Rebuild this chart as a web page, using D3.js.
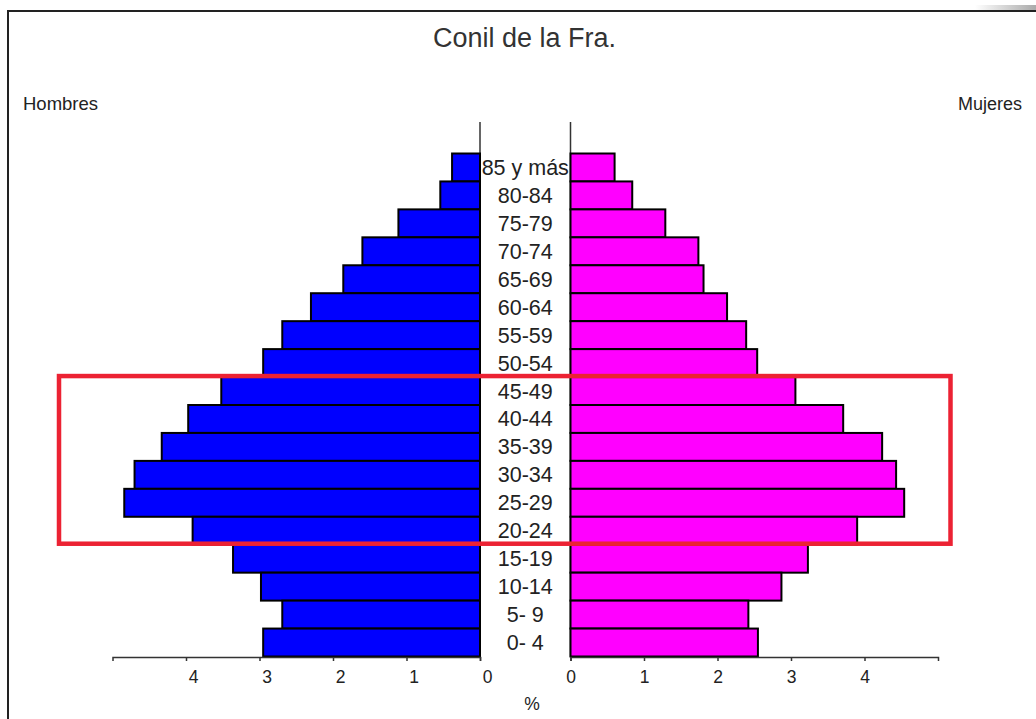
<!DOCTYPE html>
<html>
<head>
<meta charset="utf-8">
<script src="https://cdn.jsdelivr.net/npm/d3@7"></script>
<style>
  html, body { margin: 0; padding: 0; background: #fff; }
  svg { display: block; }
  text { font-family: "Liberation Sans", Arial, sans-serif; fill: #222; }
</style>
</head>
<body>
<svg id="chart" width="1036" height="719"></svg>
<script>
// ---- Data ----
const title = "Conil de la Fra.";
const ages = ["85 y más","80-84","75-79","70-74","65-69","60-64","55-59","50-54",
              "45-49","40-44","35-39","30-34","25-29","20-24","15-19","10-14","5- 9","0- 4"];
const hombres = [0.38,0.54,1.11,1.60,1.86,2.30,2.69,2.95,3.52,3.97,4.33,4.70,4.84,3.91,3.36,2.98,2.69,2.95];
const mujeres = [0.60,0.84,1.29,1.74,1.81,2.13,2.39,2.54,3.06,3.71,4.24,4.43,4.54,3.90,3.23,2.87,2.42,2.55];
const tickValues = [0,1,2,3,4];
const highlighted = ["45-49","20-24"];

(function draw() {
  const svg = d3.select("#chart");
  const axisY = 657;

  const xL = d3.scaleLinear().domain([0,5]).range([480, 112.5]);
  const xR = d3.scaleLinear().domain([0,5]).range([570.5, 938]);
  const y = d3.scaleBand().domain(ages).range([153.5, 656.5]).padding(0);

  // frame of the screenshot
  const defs = svg.append("defs");
  const grad = defs.append("linearGradient").attr("id","shade").attr("x1","0").attr("x2","1");
  grad.append("stop").attr("offset","0").attr("stop-color","#fff");
  grad.append("stop").attr("offset","1").attr("stop-color","#aaa");
  svg.append("rect").attr("x",975).attr("y",5).attr("width",61).attr("height",6).attr("fill","url(#shade)");
  svg.append("line").attr("x1",8).attr("x2",1036).attr("y1",11).attr("y2",11)
    .attr("stroke","#222").attr("stroke-width",2);
  svg.append("line").attr("x1",8).attr("x2",8).attr("y1",10).attr("y2",719)
    .attr("stroke","#222").attr("stroke-width",2);

  // title & side labels
  svg.append("text").attr("x",524.5).attr("y",47).attr("text-anchor","middle")
    .style("font-size","27px").style("fill","#333").text(title);
  svg.append("text").attr("x",23).attr("y",110).style("font-size","18.5px").text("Hombres");
  svg.append("text").attr("x",1022).attr("y",110).attr("text-anchor","end").style("font-size","18px").text("Mujeres");

  // vertical axis lines
  [xL(0), xR(0)].forEach(x => {
    svg.append("line").attr("x1",x).attr("x2",x).attr("y1",122).attr("y2",axisY)
      .attr("stroke","#333").attr("stroke-width",1.5);
  });

  // bars
  svg.append("g").selectAll("rect").data(ages).join("rect")
    .attr("x", (d,i) => xL(hombres[i]))
    .attr("y", d => y(d))
    .attr("width", (d,i) => xL(0) - xL(hombres[i]))
    .attr("height", y.bandwidth())
    .attr("fill","#0000ff").attr("stroke","#000").attr("stroke-width",2);

  svg.append("g").selectAll("rect").data(ages).join("rect")
    .attr("x", xR(0))
    .attr("y", d => y(d))
    .attr("width", (d,i) => xR(mujeres[i]) - xR(0))
    .attr("height", y.bandwidth())
    .attr("fill","#ff00ff").attr("stroke","#000").attr("stroke-width",2);

  // age labels
  svg.append("g").selectAll("text").data(ages).join("text")
    .attr("x", (xL(0)+xR(0))/2)
    .attr("y", d => y(d) + y.bandwidth()/2 + 7.5)
    .attr("text-anchor","middle")
    .style("font-size","21.5px")
    .text(d => d);

  // bottom axes
  function styleAxis(g, dx) {
    g.select(".domain").attr("stroke","#333").attr("stroke-width",1.5);
    g.selectAll(".tick line").attr("stroke","#333").attr("stroke-width",1.5);
    g.selectAll(".tick text").style("font-size","17.5px").attr("fill","#222")
      .style("font-family","'Liberation Sans', Arial, sans-serif").attr("dy","0.95em").attr("dx", dx);
  }
  svg.append("g").attr("transform",`translate(0,${axisY})`)
    .call(d3.axisBottom(xL).tickValues(tickValues).tickFormat(d3.format("d")).tickSizeOuter(0).tickSize(4).tickPadding(5))
    .call(g => styleAxis(g, 7));
  svg.append("g").attr("transform",`translate(0,${axisY})`)
    .call(d3.axisBottom(xR).tickValues(tickValues).tickFormat(d3.format("d")).tickSizeOuter(0).tickSize(4).tickPadding(5))
    .call(g => styleAxis(g, 0));

  svg.append("text").attr("x",532).attr("y",710).attr("text-anchor","middle")
    .style("font-size","17.5px").text("%");

  // red highlight box
  const boxTop = y(highlighted[0]) - 1;
  const boxBottom = y(highlighted[1]) + y.bandwidth() - 1;
  svg.append("rect").attr("x",59).attr("y",boxTop).attr("width",950.5-59).attr("height",boxBottom-boxTop)
    .attr("fill","none").attr("stroke","#ec2233").attr("stroke-width",4.5);
})();
</script>
</body>
</html>
